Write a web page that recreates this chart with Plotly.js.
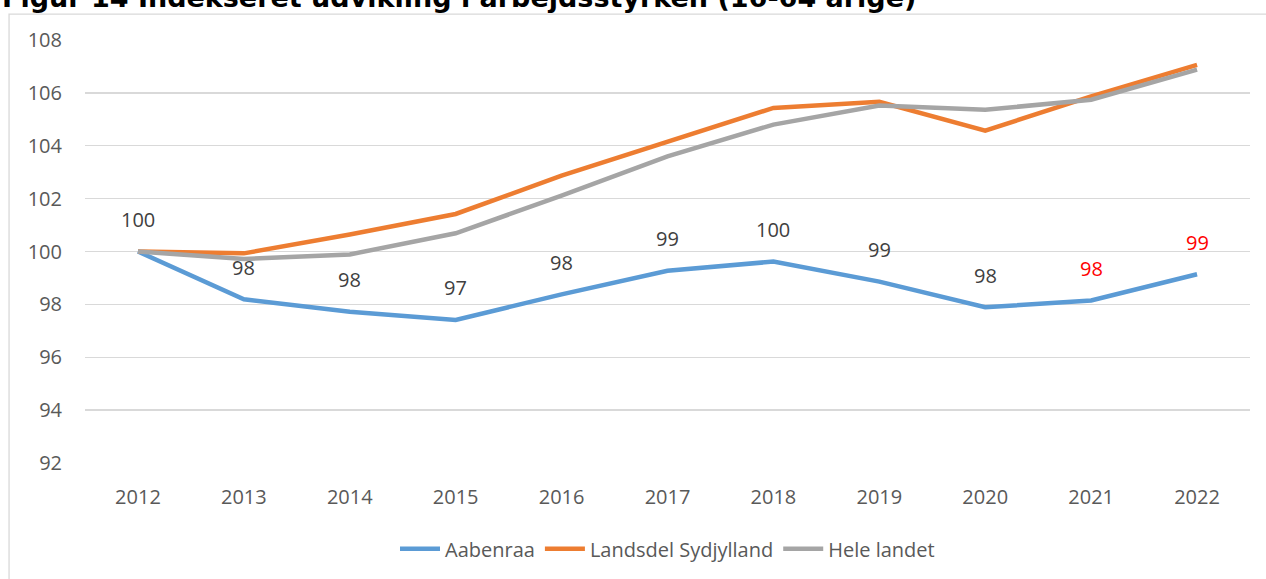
<!DOCTYPE html>
<html>
<head>
<meta charset="utf-8">
<script src="https://cdn.plot.ly/plotly-3.0.1.min.js"></script>
<style>html,body{margin:0;padding:0;background:#fff;}#chart{width:1266px;height:579px;}</style>
</head>
<body>
<div id="chart"></div>
<script>
var years = ['2012','2013','2014','2015','2016','2017','2018','2019','2020','2021','2022'];
var aabenraa = [100, 98.19, 97.72, 97.41, 98.38, 99.27, 99.62, 98.86, 97.89, 98.15, 99.14];
var sydjylland = [100, 99.93, 100.64, 101.42, 102.87, 104.15, 105.43, 105.66, 104.57, 105.87, 107.06];
var heleLandet = [100, 99.72, 99.89, 100.69, 102.11, 103.6, 104.8, 105.52, 105.36, 105.74, 106.88];
var aabenraaLabels = ['100','98','98','97','98','99','100','99','98','98','99'];
var labelColors = ['#404040','#404040','#404040','#404040','#404040','#404040','#404040','#404040','#404040','#FF0000','#FF0000'];
var yTicks = [92, 94, 96, 98, 100, 102, 104, 106, 108];
var titleText = 'Figur 14 Indekseret udvikling i arbejdsstyrken (16-64 årige)';

var font = 'Open Sans, Noto Sans, sans-serif';

var traces = [
  {x: years, y: aabenraa, name: 'Aabenraa', type: 'scatter', mode: 'lines',
   line: {color: '#5B9BD5', width: 4.5}},
  {x: years, y: sydjylland, name: 'Landsdel Sydjylland', type: 'scatter', mode: 'lines',
   line: {color: '#ED7D31', width: 4.5}},
  {x: years, y: heleLandet, name: 'Hele landet', type: 'scatter', mode: 'lines',
   line: {color: '#A5A5A5', width: 4.5}}
];

var annotations = years.map(function(yr, i) {
  return {x: i, y: aabenraa[i], xref: 'x', yref: 'y', text: aabenraaLabels[i],
    showarrow: false, yshift: 32, font: {family: font, size: 20, color: labelColors[i]}};
});
annotations.push({xref: 'paper', yref: 'paper', x: -0.073, y: 1.059, xanchor: 'left', yanchor: 'bottom',
  showarrow: false, text: '<b>' + titleText + '</b>',
  font: {family: 'DejaVu Sans, Verdana, sans-serif', size: 27, color: '#000'}});

var layout = {
  width: 1266, height: 579,
  margin: {l: 85, r: 16, t: 40, b: 115},
  paper_bgcolor: '#fff', plot_bgcolor: '#fff',
  xaxis: {type: 'category', range: [-0.5, 10.5], showgrid: false, showline: false, zeroline: false,
    ticks: '', ticklabelstandoff: 20, tickfont: {family: font, size: 20, color: '#595959'}},
  yaxis: {range: [92, 108], tickvals: yTicks, ticktext: yTicks.map(String), showgrid: true,
    gridcolor: '#D9D9D9', gridwidth: 1.3, zeroline: false, showline: false, ticks: '',
    ticklabelstandoff: 22, tickfont: {family: font, size: 20, color: '#595959'}},
  showlegend: true,
  legend: {orientation: 'h', x: 0.5, xanchor: 'center', y: -0.2, yanchor: 'middle',
    font: {family: font, size: 20, color: '#595959'}, itemwidth: 40},
  annotations: annotations,
  shapes: [{type: 'path', xref: 'paper', yref: 'paper',
    path: 'M -0.0652 -0.5 L -0.0652 1.0613 L 1.1 1.0613',
    line: {color: '#D9D9D9', width: 1.3}, layer: 'below'}]
};

Plotly.newPlot('chart', traces, layout, {displayModeBar: false, staticPlot: true});
</script>
</body>
</html>
